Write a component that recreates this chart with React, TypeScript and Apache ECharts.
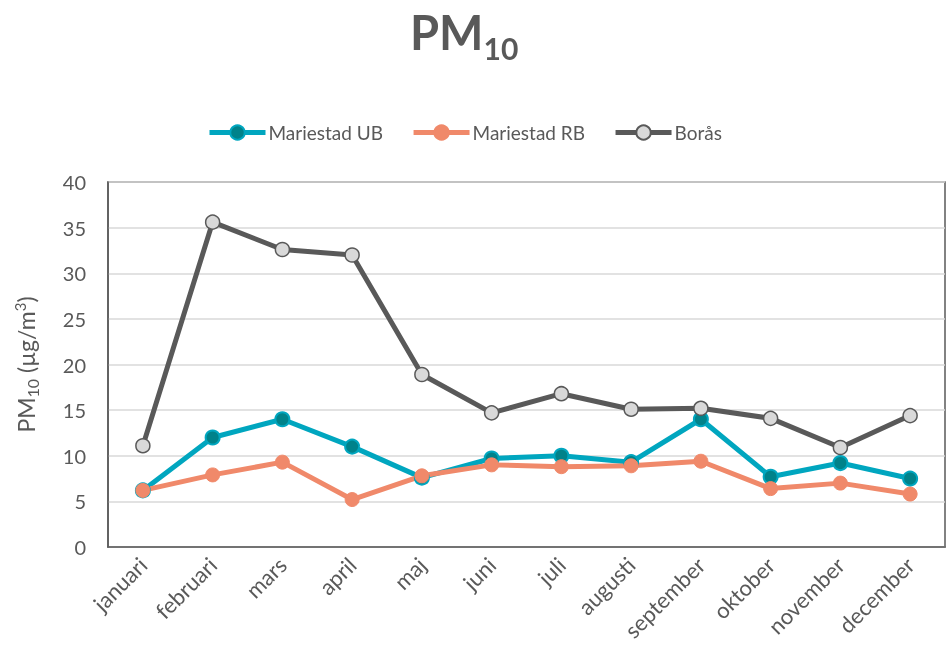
import React, { useEffect, useRef } from "react";
import * as echarts from "echarts";

const months = ["januari", "februari", "mars", "april", "maj", "juni", "juli", "augusti", "september", "oktober", "november", "december"];
const mariestadUB = [6.2, 12.0, 14.0, 11.0, 7.6, 9.7, 10.0, 9.3, 14.0, 7.7, 9.2, 7.5];
const mariestadRB = [6.2, 7.9, 9.3, 5.2, 7.8, 9.0, 8.8, 8.9, 9.4, 6.4, 7.0, 5.8];
const boras = [11.1, 35.6, 32.6, 32.0, 18.9, 14.7, 16.8, 15.1, 15.2, 14.1, 10.9, 14.4];
const seriesNames = ["Mariestad UB", "Mariestad RB", "Borås"];

const FONT = "Lato";
const TXT = "#595959";

export default function App() {
  const ref = useRef<HTMLDivElement>(null);
  useEffect(() => {
    const chart = echarts.init(ref.current!, null, { renderer: "svg" });
    const mk = (name: string, data: number[], line: string, fill: string, border: string, bw: number) => ({
      name,
      type: "line",
      data,
      symbol: "circle",
      symbolSize: 14,
      lineStyle: { color: line, width: 5 },
      itemStyle: { color: fill, borderColor: border, borderWidth: bw },
      emphasis: { disabled: true },
    });
    chart.setOption({
      animation: false,
      textStyle: { fontFamily: FONT, color: TXT },
      title: {
        text: "{pm|PM}{sub|10}",
        left: 405,
        top: -4,
        textStyle: {
          rich: {
            pm: { fontSize: 47, fontWeight: "bold", color: TXT, fontFamily: FONT },
            sub: { fontSize: 30, fontWeight: "bold", color: TXT, fontFamily: FONT, padding: [32, 0, 0, 0] },
          },
        },
      },
      legend: {
        top: 118,
        left: 202,
        itemWidth: 56,
        itemHeight: 18,
        itemGap: 28,
        lineStyle: { width: 5 },
        textStyle: { fontSize: 19, color: TXT, fontFamily: FONT, padding: [0, 0, 0, -2] },
        data: seriesNames,
      },
      grid: {
        left: 108,
        right: 1,
        top: 182,
        bottom: 107,
        show: true,
        borderColor: "#595959",
        borderWidth: 1.5,
        containLabel: false,
      },
      xAxis: {
        type: "category",
        data: months,
        boundaryGap: true,
        axisLine: { show: true, lineStyle: { color: "#595959", width: 1.5 } },
        axisTick: { show: false },
        axisLabel: { rotate: 45, fontSize: 22, color: TXT, fontFamily: FONT, margin: 14, interval: 0 },
      },
      yAxis: {
        type: "value",
        min: 0,
        max: 40,
        interval: 5,
        name: "{a|PM}{s|10}{a| (µg/m}{p|3}{a|)}",
        nameLocation: "middle",
        nameRotate: 90,
        nameGap: 68,
        nameTextStyle: {
          fontSize: 23,
          color: TXT,
          fontFamily: FONT,
          rich: {
            a: { fontSize: 23, color: TXT, fontFamily: FONT },
            s: { fontSize: 16, color: TXT, fontFamily: FONT, padding: [12, 0, 0, 0] },
            p: { fontSize: 15, color: TXT, fontFamily: FONT, padding: [0, 0, 12, 0] },
          },
        },
        axisLine: { show: true, lineStyle: { color: "#595959", width: 1.5 } },
        axisTick: { show: false },
        axisLabel: { fontSize: 20, color: TXT, fontFamily: FONT, margin: 22 },
        splitLine: { show: true, lineStyle: { color: "#D9D9D9", width: 1.5 } },
      },
      series: [
        mk(seriesNames[0], mariestadUB, "#00A6BF", "#00828A", "#00A6BF", 2),
        mk(seriesNames[1], mariestadRB, "#F0896A", "#F0896A", "#F0896A", 1),
        mk(seriesNames[2], boras, "#595959", "#D9D9D9", "#595959", 1.5),
      ],
    });
    return () => chart.dispose();
  }, []);
  return <div ref={ref} style={{ position: "fixed", left: 0, top: 0, width: 946, height: 654 }} />;
}
